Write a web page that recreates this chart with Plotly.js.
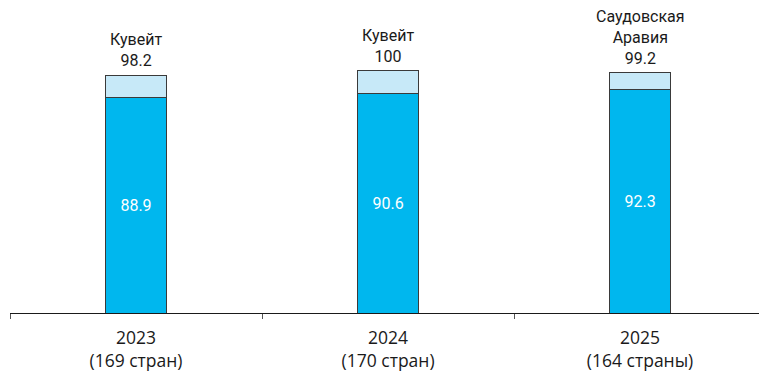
<!DOCTYPE html>
<html>
<head>
<meta charset="utf-8">
<script src="https://cdn.plot.ly/plotly-3.0.1.min.js"></script>
<style>
  html, body { margin: 0; padding: 0; background: #fff; }
  #chart { width: 759px; height: 374px; }
</style>
</head>
<body>
<div id="chart"></div>
<script>
// Years and the number of countries rated in each
const years = ['2023', '2024', '2025'];
const countryCounts = ['(169 стран)', '(170 стран)', '(164 страны)'];
// Lower segment value and the leader's total for each year
const baseValues = [88.9, 90.6, 92.3];
const leaderValues = [98.2, 100, 99.2];
const leaderNames = ['Кувейт', 'Кувейт', 'Саудовская<br>Аравия'];

const tickLabels = years.map((y, i) => y + '<br>' + countryCounts[i]);
const gapValues = leaderValues.map((v, i) => +(v - baseValues[i]).toFixed(1));

const barOutline = { color: '#3a3a3a', width: 1 };
const labelFont = 'Roboto';

const traces = [
  {
    type: 'bar',
    x: years,
    y: baseValues,
    width: 0.242,
    marker: { color: '#00b7ee', line: barOutline },
    text: baseValues.map(v => v.toFixed(1)),
    textposition: 'inside',
    insidetextanchor: 'middle',
    textfont: { family: labelFont, size: 16, color: '#ffffff' },
    hoverinfo: 'skip'
  },
  {
    type: 'bar',
    x: years,
    y: gapValues,
    width: 0.242,
    marker: { color: '#c7e9f8', line: barOutline },
    textposition: 'none',
    hoverinfo: 'skip'
  }
];

// Leader name and total above each bar; category positions are given by index
const annotations = years.map((y, i) => ({
  x: i,
  y: leaderValues[i],
  xref: 'x',
  yref: 'y',
  yanchor: 'bottom',
  yshift: 3,
  showarrow: false,
  text: leaderNames[i] + '<br>' + (Number.isInteger(leaderValues[i]) ? String(leaderValues[i]) : leaderValues[i].toFixed(1)),
  font: { family: labelFont, size: 16, color: '#1a1a1a' }
}));

const layout = {
  width: 759,
  height: 374,
  margin: { l: 10, r: 0, t: 0, b: 61 },
  paper_bgcolor: '#ffffff',
  plot_bgcolor: '#ffffff',
  barmode: 'stack',
  showlegend: false,
  xaxis: {
    type: 'category',
    range: [-0.5, 2.472],
    tickmode: 'array',
    tickvals: years,
    ticktext: tickLabels,
    tickson: 'boundaries',
    ticks: 'outside',
    ticklen: 5,
    tickwidth: 1,
    tickcolor: '#555555',
    ticklabelstandoff: 9,
    showline: true,
    linecolor: '#1a1a1a',
    linewidth: 1,
    showgrid: false,
    zeroline: false,
    tickfont: { family: 'Open Sans', size: 17.5, color: '#1a1a1a' },
    fixedrange: true
  },
  yaxis: {
    range: [0, 129.3],
    visible: false,
    showgrid: false,
    zeroline: false,
    fixedrange: true
  },
  annotations: annotations
};

Plotly.newPlot('chart', traces, layout, { displayModeBar: false, staticPlot: true });
</script>
</body>
</html>
